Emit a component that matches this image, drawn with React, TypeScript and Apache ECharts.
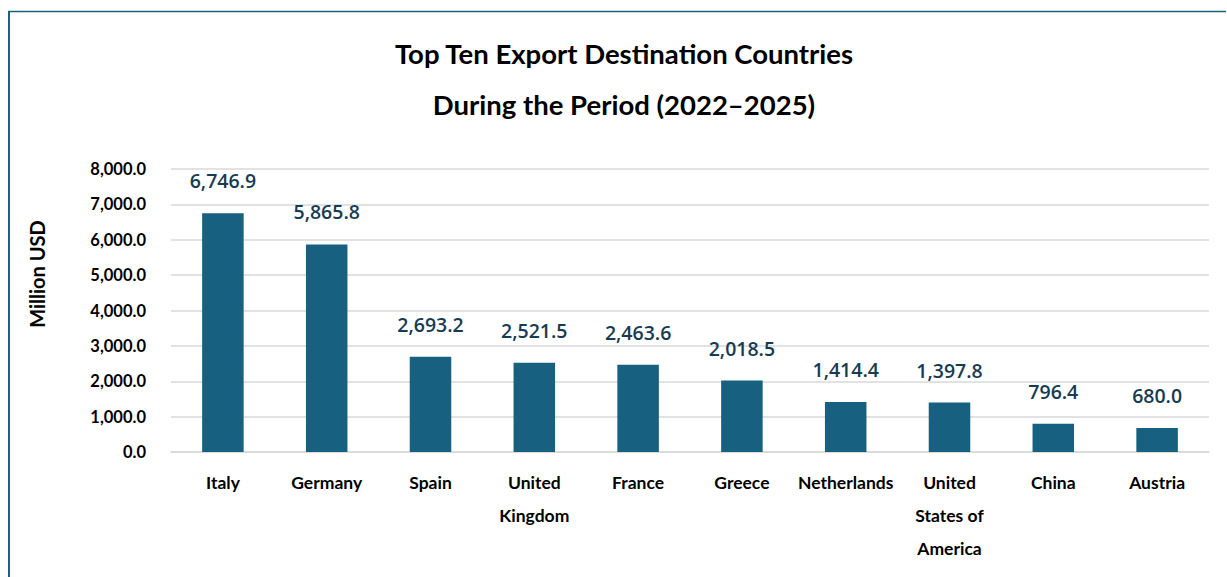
import React, { useEffect, useRef } from "react";
import * as echarts from "echarts";

const categories = [
  "Italy",
  "Germany",
  "Spain",
  "United\nKingdom",
  "France",
  "Greece",
  "Netherlands",
  "United\nStates of\nAmerica",
  "China",
  "Austria",
];
const values = [6746.9, 5865.8, 2693.2, 2521.5, 2463.6, 2018.5, 1414.4, 1397.8, 796.4, 680.0];
const titleLines = ["Top Ten Export Destination Countries", "During the Period (2022\u20132025)"];
const yAxisName = "Million USD";

const fmt = (v: number) =>
  v.toLocaleString("en-US", { minimumFractionDigits: 1, maximumFractionDigits: 1 });

export default function App() {
  const ref = useRef<HTMLDivElement>(null);
  useEffect(() => {
    if (!ref.current) return;
    const chart = echarts.init(ref.current, null, { renderer: "svg" });
    const border = "#1d5f7e";
    chart.setOption({
      animation: false,
      backgroundColor: "#ffffff",
      title: {
        text: titleLines.join("\n"),
        left: 619,
        top: 23,
        textAlign: "center",
        textStyle: {
          fontFamily: "Lato",
          fontWeight: "bold",
          fontSize: 27.5,
          lineHeight: 51,
          color: "#000000",
        },
      },
      grid: { left: 171, right: 18, top: 169, bottom: 125 },
      xAxis: {
        type: "category",
        data: categories,
        axisTick: { show: false },
        axisLine: { lineStyle: { color: "#d9d9d9", width: 1.5 } },
        axisLabel: {
          interval: 0,
          margin: 14,
          fontFamily: "Lato",
          fontWeight: "bold",
          fontSize: 17.5,
          lineHeight: 33,
          color: "#000000",
        },
      },
      yAxis: {
        type: "value",
        min: 0,
        max: 8000,
        interval: 1000,
        axisLine: { show: false },
        axisTick: { show: false },
        splitLine: { lineStyle: { color: "#d9d9d9", width: 1.5 } },
        axisLabel: {
          margin: 25,
          fontFamily: "Lato",
          fontWeight: "bold",
          fontSize: 16.5,
          color: "#000000",
          formatter: (v: number) => fmt(v),
        },
      },
      series: [
        {
          type: "bar",
          data: values,
          barWidth: "40%",
          itemStyle: { color: "#17607f" },
          label: {
            show: true,
            position: "top",
            distance: 23,
            fontFamily: "Open Sans",
            fontWeight: 600,
            fontSize: 19.5,
            lineHeight: 19,
            color: "#173b52",
            formatter: (p: any) => fmt(p.value),
          },
        },
      ],
      graphic: [
        {
          type: "line",
          shape: { x1: 9, y1: 11, x2: 9, y2: 577 },
          style: { stroke: border, lineWidth: 2 },
        },
        {
          type: "line",
          shape: { x1: 8, y1: 11.5, x2: 1226, y2: 11.5 },
          style: { stroke: border, lineWidth: 1.5 },
        },
        {
          type: "text",
          x: 37,
          y: 274,
          rotation: Math.PI / 2,
          style: {
            text: yAxisName,
            fontFamily: "Lato",
            fontWeight: "bold",
            fontSize: 20,
            fill: "#000000",
            align: "center",
            verticalAlign: "middle",
          },
        },
      ],
    });
    return () => chart.dispose();
  }, []);
  return (
    <div
      ref={ref}
      style={{ position: "fixed", left: 0, top: 0, width: 1227, height: 577, background: "#fff" }}
    />
  );
}
